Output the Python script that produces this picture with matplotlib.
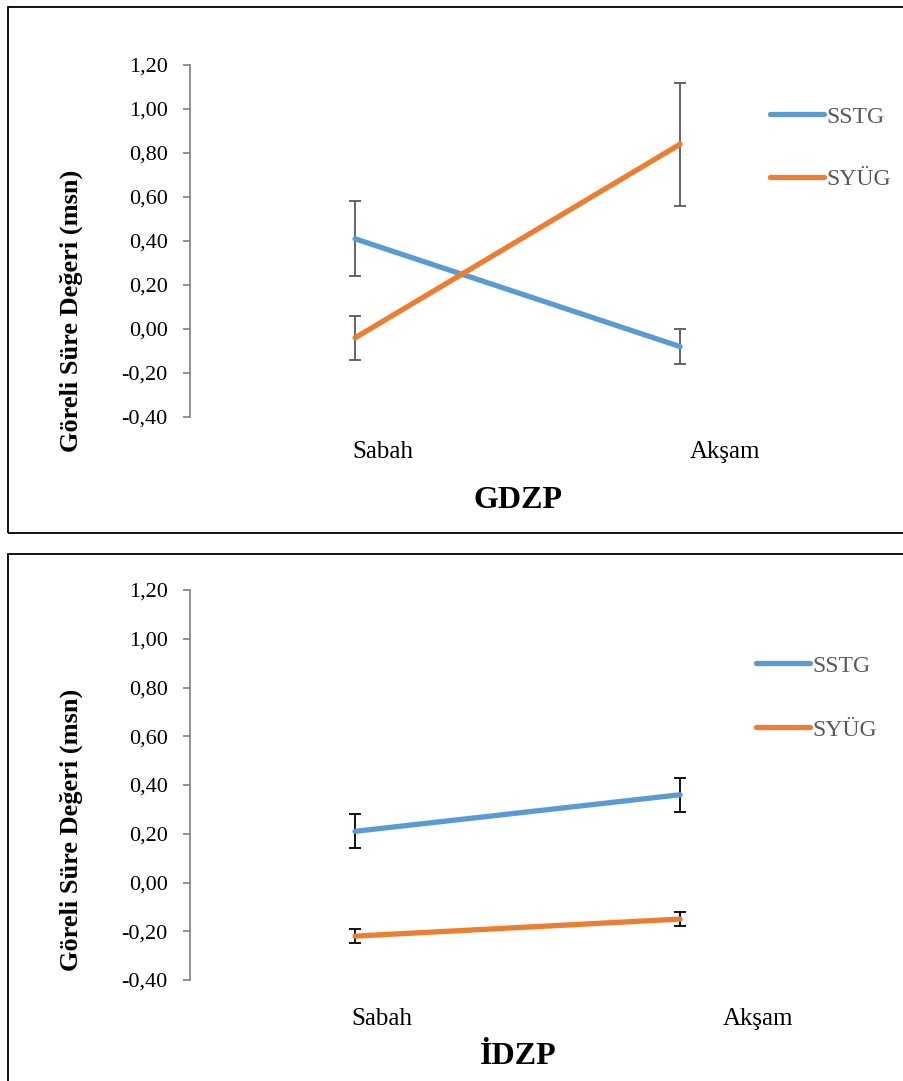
import numpy as np
import matplotlib
matplotlib.use("Agg")
import matplotlib.pyplot as plt
import matplotlib.transforms as mtransforms
from matplotlib.patches import Rectangle
from matplotlib.ticker import FuncFormatter

# データ
categories = ["Sabah", "Akşam"]
series_names = ["SSTG", "SYÜG"]

gdzp_sstg = [0.41, -0.08]
gdzp_sstg_err = [0.17, 0.08]
gdzp_syug = [-0.04, 0.84]
gdzp_syug_err = [0.10, 0.28]

idzp_sstg = [0.21, 0.36]
idzp_sstg_err = [0.07, 0.07]
idzp_syug = [-0.22, -0.15]
idzp_syug_err = [0.03, 0.03]

yticks = [-0.40, -0.20, 0.00, 0.20, 0.40, 0.60, 0.80, 1.00, 1.20]

plt.rcParams['font.family'] = ['Liberation Serif', 'DejaVu Serif']
W, H = 904, 1081
fig = plt.figure(figsize=(W / 100, H / 100), dpi=100)

c_blue = "#5B9BD5"
c_orange = "#ED7D31"

# 枠
fig.patches.append(Rectangle((8 / W, 1 - 533 / H), 1.2, 526 / H, transform=fig.transFigure,
                             fill=False, edgecolor="black", linewidth=1.3))
fig.patches.append(Rectangle((8 / W, -0.1), 1.2, (1081 - 554) / H + 0.1, transform=fig.transFigure,
                             fill=False, edgecolor="black", linewidth=1.3))


def panel(rect_px, s1, e1, s2, e2, ecolor, title, title_y, lab_off, lab_pad, ylab_y, leg_px, leg_sp):
    left, top, right, bottom = rect_px
    ax = fig.add_axes([left / W, 1 - bottom / H, (right - left) / W, (bottom - top) / H])
    x = np.arange(len(categories))
    ax.errorbar(x, s1, yerr=e1, color=c_blue, lw=3.8, ecolor=ecolor, elinewidth=1.3,
                capsize=4, capthick=1.3, label=series_names[0], solid_capstyle="round")
    ax.errorbar(x, s2, yerr=e2, color=c_orange, lw=3.8, ecolor=ecolor, elinewidth=1.3,
                capsize=4, capthick=1.3, label=series_names[1], solid_capstyle="round")
    ax.set_xlim(-0.508, 1.492)
    ax.set_ylim(-0.40, 1.20)
    ax.set_yticks(yticks)
    ax.yaxis.set_major_formatter(FuncFormatter(lambda v, p: f"{v:.2f}".replace(".", ",")))
    for s in ["top", "right", "bottom"]:
        ax.spines[s].set_visible(False)
    ax.spines["left"].set_color("#7f7f7f")
    ax.spines["left"].set_linewidth(1.2)
    ax.tick_params(axis="y", length=5, width=1.2, color="#7f7f7f", labelsize=16, pad=11)
    ax.set_xticks(x)
    ax.set_xticklabels(categories, fontsize=18)
    ax.tick_params(axis="x", length=0, pad=lab_pad)
    for lbl, dx in zip(ax.get_xticklabels(), lab_off):
        lbl.set_transform(lbl.get_transform() + mtransforms.ScaledTranslation(dx / 100, 0, fig.dpi_scale_trans))
    ax.set_ylabel("Göreli Süre Değeri (msn)", fontsize=19, fontweight="bold")
    ax.yaxis.set_label_coords((71 - left) / (right - left), (bottom - ylab_y) / (bottom - top))
    ax.yaxis.label.set_va("center")
    fig.text(518 / W, 1 - title_y / H, title, fontsize=23, fontweight="bold", ha="center", va="center")
    h, l = ax.get_legend_handles_labels()
    h = [hh[0] for hh in h]
    ax.legend(h, l, loc="upper left", bbox_to_anchor=(leg_px[0] / W, 1 - leg_px[1] / H),
              bbox_transform=fig.transFigure, frameon=False, fontsize=17, handlelength=2.3,
              handletextpad=0.1, labelspacing=leg_sp, borderpad=0, borderaxespad=0,
              labelcolor="#595959")
    return ax


panel((190, 65, 840, 417), gdzp_sstg, gdzp_sstg_err, gdzp_syug, gdzp_syug_err,
      "#595959", "GDZP", 500, [28, 45], 17, 311, (770, 106), 1.74)
panel((190, 590, 840, 980), idzp_sstg, idzp_sstg_err, idzp_syug, idzp_syug_err,
      "black", "İDZP", 1057, [27, 78], 20, 830, (756, 655), 1.8)

fig.savefig("out.png", dpi=100)
